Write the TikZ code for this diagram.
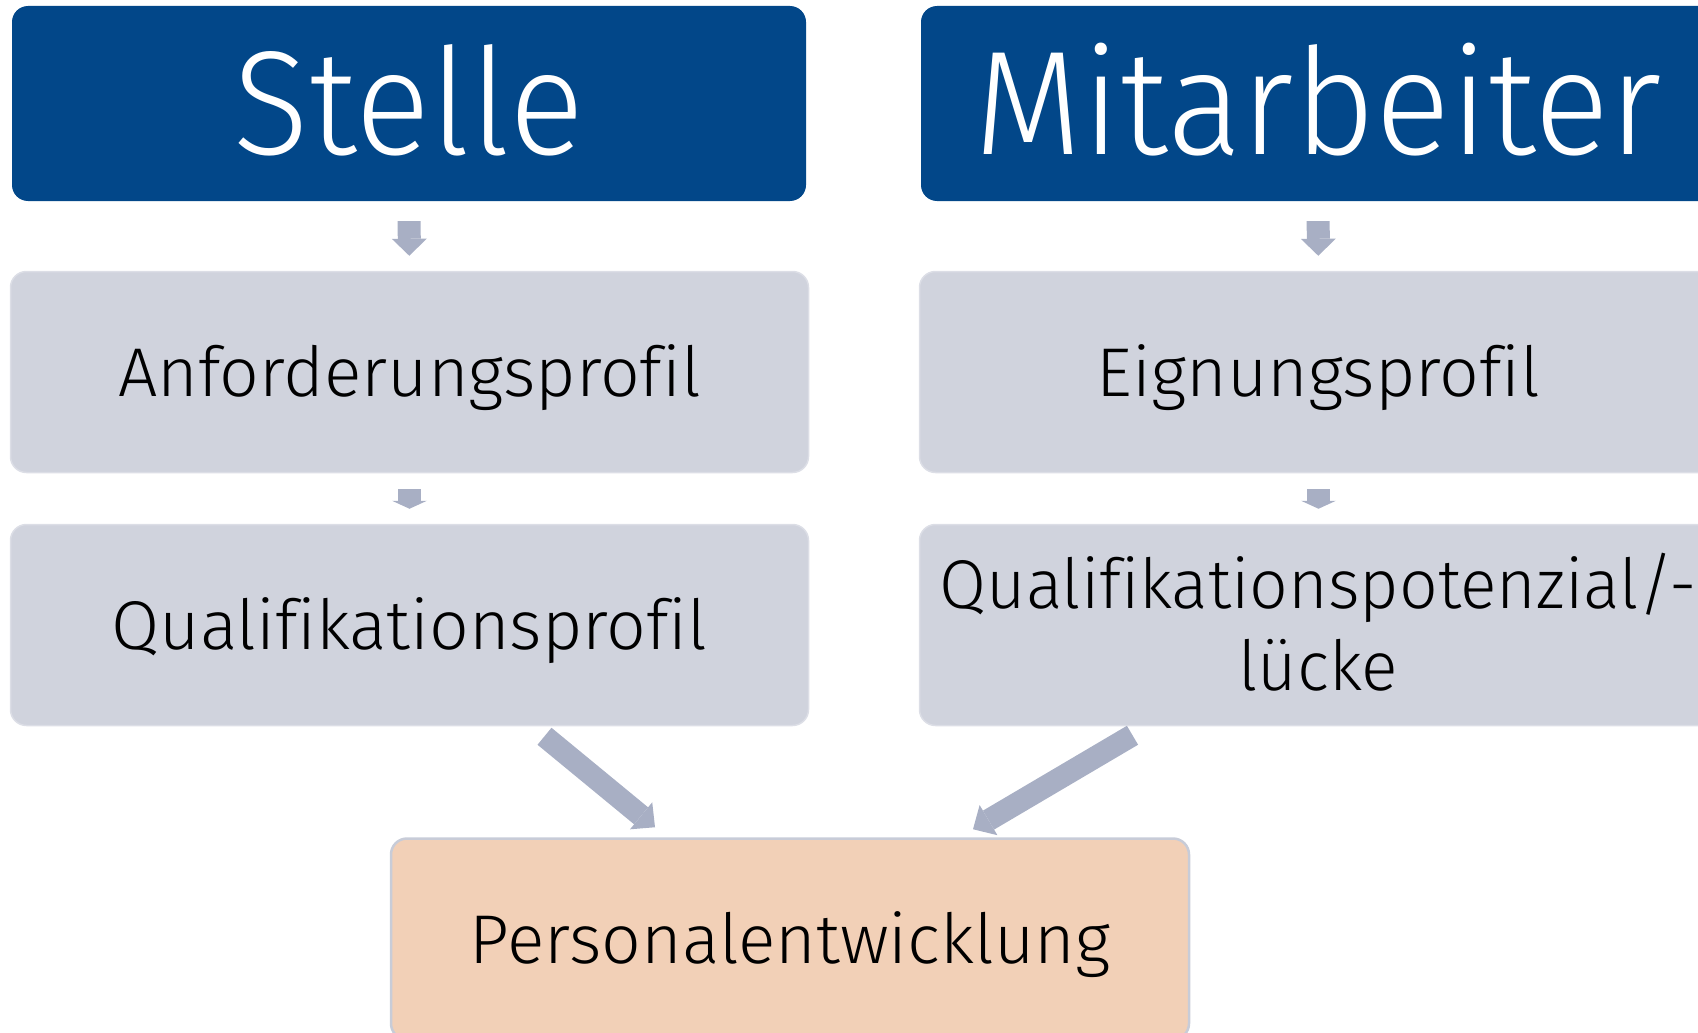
\documentclass[tikz,border=0pt]{standalone}
\usepackage{fontspec}
\setmainfont{Fira Sans Light}[FakeStretch=1.01,Ligatures=NoCommon]
\newfontfamily\headfont{Fira Sans Light}[FakeStretch=0.945,Ligatures=NoCommon]
\newfontfamily\narrowfont{Fira Sans Light}[FakeStretch=0.985,Ligatures=NoCommon]
\usepackage{tikz}
\usetikzlibrary{arrows.meta,positioning}
\definecolor{headblue}{RGB}{2,71,137}
\definecolor{profgray}{RGB}{208,211,221}
\definecolor{arrowgray}{RGB}{168,175,196}
\definecolor{peorange}{RGB}{242,208,183}
\definecolor{peborder}{RGB}{200,204,216}

\begin{document}
\begin{tikzpicture}[x=1pt,y=-1pt,
    headbox/.style={rounded corners=16pt, fill=headblue, text=white,
        minimum width=794pt, minimum height=195pt, inner sep=0pt,
        font=\headfont\fontsize{148}{160}\selectfont, text height=102pt, text depth=0pt},
    profbox/.style={rounded corners=16pt, fill=profgray, draw=profgray!75!white, line width=1.5pt,
        minimum width=798pt, minimum height=201pt, inner sep=0pt, align=center,
        font=\fontsize{69}{82}\selectfont, text height=48pt, text depth=0pt},
    pebox/.style={profbox, fill=peorange, draw=peborder, line width=2.5pt},
    bigdown/.style={draw=arrowgray, line width=23pt,
        -{Triangle[width=35pt,length=17pt,line width=0pt]},
        shorten <=20pt, shorten >=15pt},
    smalldown/.style={draw=arrowgray, line width=23pt,
        -{Triangle[width=35pt,length=8pt,line width=0pt]},
        shorten <=16pt, shorten >=15pt},
    slantarrow/.style={draw=arrowgray, line width=22pt,
        -{Triangle[width=35pt,length=18pt,line width=0pt]}}]
 %the frame
    \useasboundingbox (0,0) rectangle (1698,1033);

 %the two heads
    \node[headbox] (stelle) at (409,103.5) {Stelle};
    \node[headbox] (mitarb) at (1318,103.5) {Mitarbeiter};

 %the profiles
    \node[profbox] (anf) at (409.5,372) {Anforderungsprofil};
    \node[profbox] (eign) at (1318.5,372) {Eignungsprofil};
    \node[profbox] (qualL) at (409.5,625) {Qualifikationsprofil};
    \node[profbox, text height=130pt, font=\narrowfont\fontsize{69}{82}\selectfont] (qualR) at (1318.5,625)
        {Qualifikationspotenzial/-\\lücke};

 %the target
    \node[pebox] (pe) at (790,939) {Personalentwicklung};

 %the arrows
    \draw[bigdown] (stelle) -- (anf);
    \draw[bigdown] (mitarb) -- (eign);
    \draw[smalldown] (anf) -- (qualL);
    \draw[smalldown] (eign) -- (qualR);
    \draw[slantarrow] ([xshift=135pt,yshift=-10pt]qualL.south) -- ([xshift=-135pt,yshift=10pt]pe.north);
    \draw[slantarrow] ([xshift=-186pt,yshift=-9pt]qualR.south) -- ([xshift=183pt,yshift=8pt]pe.north);
\end{tikzpicture}
\end{document}
